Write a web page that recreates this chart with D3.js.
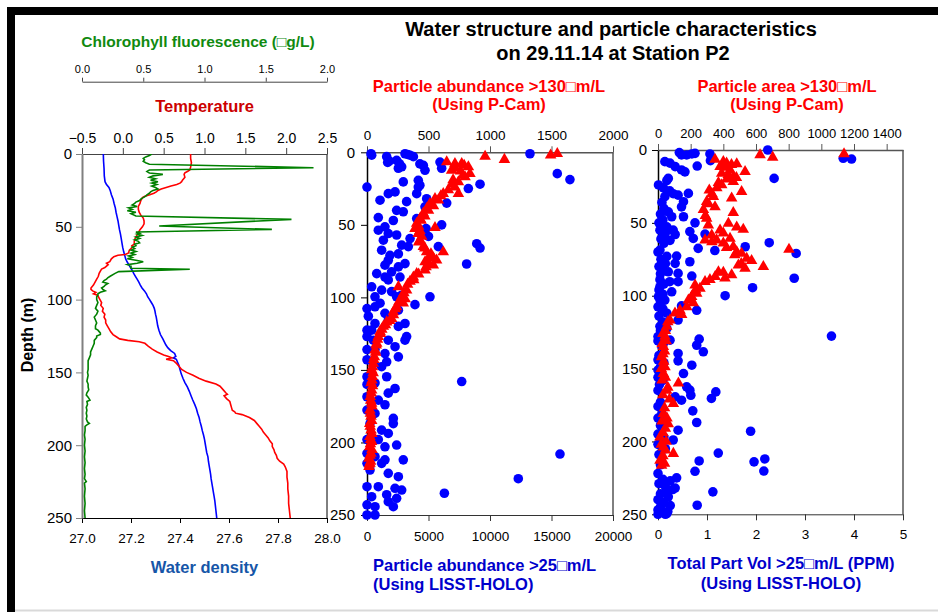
<!DOCTYPE html>
<html><head><meta charset="utf-8">
<script src="https://cdn.jsdelivr.net/npm/d3@7"></script>
<style>body{margin:0;background:#fff;} svg{display:block;}</style>
</head><body>
<svg id="chart" width="938" height="612"></svg>
<script>
// ---------------- DATA ----------------
const depthTicks = [0, 50, 100, 150, 200, 250];
const chlTicks = [0, 0.5, 1.0, 1.5, 2.0];
const tempTicks = [-0.5, 0, 0.5, 1.0, 1.5, 2.0, 2.5];
const densityTicks = [27.0, 27.2, 27.4, 27.6, 27.8, 28.0];
const pcamAbundanceTicks = [0, 500, 1000, 1500, 2000];
const holoAbundanceTicks = [0, 5000, 10000, 15000, 20000];
const pcamAreaTicks = [0, 200, 400, 600, 800, 1000, 1200, 1400];
const holoVolumeTicks = [0, 1, 2, 3, 4, 5];

// [depth m, value]
const chlorophyllProfile = [
[0,0.57],[1,0.55],[2,0.52],[3,0.50],[4,0.51],[5,0.50],[6,0.52],[7,0.55],[9.4,1.89],[11,0.55],[12,0.53],[13,0.55],[14,0.66],[15,0.58],[16,0.55],[17,0.60],[18,0.56],[19,0.62],[20,0.57],[21,0.61],[22,0.57],[23,0.60],[24,0.62],[25,0.58],[26,0.56],[27,0.55],[28,0.53],[29,0.52],[30,0.50],[31,0.48],[32,0.47],[33,0.44],[34,0.43],[35,0.41],[36,0.45],[37,0.38],[38,0.41],[39,0.37],[40,0.44],[41,0.40],[42.6,0.44],[44.9,1.71],[49.5,0.63],[51.8,1.55],[53.6,0.44],[54.5,0.47],[55,0.45],[56,0.49],[57,0.44],[58,0.47],[59,0.43],[60,0.46],[61,0.47],[62,0.43],[63,0.44],[64,0.41],[65,0.43],[66,0.40],[67,0.44],[68,0.40],[69,0.43],[70,0.38],[71,0.41],[72,0.37],[73,0.44],[74,0.50],[75,0.45],[76,0.37],[77,0.40],[78.5,0.40],[79.2,0.88],[80.8,0.30],[82,0.27],[84,0.23],[85,0.21],[86,0.20],[87,0.18],[88,0.17],[89,0.21],[90,0.19],[91,0.18],[92,0.16],[93,0.17],[94,0.19],[95,0.15],[96,0.13],[97,0.13],[98,0.12],[100,0.12],[102,0.13],[104,0.12],[106,0.11],[108,0.13],[110,0.12],[112,0.10],[114,0.11],[116,0.12],[118,0.11],[120,0.11],[121,0.13],[122,0.14],[123,0.15],[124,0.15],[125,0.12],[126,0.12],[128,0.10],[130,0.10],[132,0.09],[134,0.08],[136,0.07],[138,0.07],[140,0.06],[142,0.05],[144,0.05],[146,0.05],[148,0.05],[150,0.045],[152,0.05],[154,0.045],[156,0.04],[158,0.05],[160,0.05],[162,0.055],[164,0.04],[165.5,0.035],[167,0.05],[169,0.065],[170,0.04],[172,0.045],[174,0.035],[176,0.04],[178,0.035],[180,0.04],[182,0.035],[184,0.045],[185,0.06],[186,0.04],[187,0.025],[190,0.025],[193,0.02],[196,0.025],[200,0.02],[204,0.025],[208,0.02],[212,0.025],[216,0.02],[220,0.025],[223,0.02],[225,0.035],[226,0.02],[230,0.025],[235,0.02],[240,0.025],[245,0.02],[250,0.025]
];

const temperatureProfile = [
[0,0.83],[3,0.83],[6,0.84],[9,0.83],[11,0.82],[12,0.79],[13,0.76],[14,0.75],[16,0.76],[18,0.73],[19,0.72],[20,0.70],[21,0.66],[22,0.59],[23,0.53],[24,0.47],[25,0.43],[26,0.41],[27,0.38],[28,0.33],[29,0.27],[30,0.24],[32,0.22],[34,0.21],[36,0.19],[38,0.19],[40,0.20],[42,0.22],[44,0.25],[46,0.26],[48,0.26],[50,0.24],[52,0.21],[54,0.19],[56,0.17],[58,0.15],[60,0.14],[62,0.14],[63,0.11],[64,0.12],[66,0.08],[68,0.07],[69,0.03],[69.5,-0.06],[70.5,-0.11],[72,-0.14],[74,-0.16],[75,-0.20],[76,-0.18],[78,-0.22],[79,-0.26],[80,-0.27],[82,-0.29],[84,-0.30],[86,-0.32],[88,-0.34],[90,-0.36],[92,-0.39],[93,-0.39],[94,-0.37],[95,-0.33],[96,-0.36],[97,-0.31],[98,-0.30],[100,-0.28],[102,-0.26],[104,-0.27],[106,-0.24],[108,-0.25],[110,-0.22],[112,-0.23],[114,-0.21],[116,-0.21],[118,-0.19],[120,-0.17],[122,-0.15],[124,-0.12],[125.5,-0.08],[127,-0.04],[128,0.06],[129,0.20],[130,0.27],[132,0.31],[134,0.36],[136,0.42],[138,0.50],[139,0.56],[140,0.60],[141,0.53],[142,0.62],[144,0.66],[146,0.69],[148,0.72],[150,0.78],[152,0.86],[154,0.93],[156,1.02],[158,1.14],[159.5,1.19],[162,1.23],[164,1.26],[165,1.28],[166,1.24],[168,1.27],[170,1.31],[172,1.32],[174,1.33],[176,1.34],[177,1.37],[178,1.38],[179,1.46],[181,1.55],[183,1.61],[185,1.64],[187,1.67],[189,1.70],[191,1.72],[193,1.75],[195,1.78],[197,1.80],[199,1.83],[201,1.83],[203,1.85],[205,1.86],[207,1.88],[209,1.89],[211,1.92],[213,1.97],[215,1.99],[218,2.01],[222,2.01],[226,2.02],[230,2.02],[235,2.03],[240,2.03],[245,2.04],[250,2.05]
];

const densityProfile = [
[0,27.087],[5,27.088],[10,27.090],[15,27.091],[19,27.094],[21,27.100],[23,27.110],[25,27.115],[28,27.120],[31,27.127],[34,27.131],[37,27.136],[40,27.139],[43,27.143],[46,27.147],[49,27.150],[52,27.153],[55,27.157],[58,27.160],[61,27.163],[64,27.166],[67,27.170],[70,27.175],[72,27.178],[74,27.184],[76,27.191],[78,27.198],[80,27.205],[82,27.211],[84,27.218],[86,27.225],[88,27.232],[90,27.238],[92,27.245],[94,27.255],[96,27.263],[98,27.268],[100,27.276],[102,27.283],[104,27.290],[106,27.295],[108,27.298],[110,27.300],[112,27.303],[115,27.306],[118,27.309],[121,27.314],[124,27.320],[127,27.330],[129,27.336],[131,27.342],[133,27.350],[135,27.362],[137,27.378],[139,27.383],[140,27.372],[141,27.385],[143,27.390],[145,27.395],[148,27.400],[151,27.405],[154,27.412],[157,27.420],[160,27.430],[163,27.438],[166,27.445],[169,27.452],[172,27.460],[175,27.467],[178,27.472],[181,27.478],[184,27.482],[187,27.487],[190,27.491],[193,27.496],[196,27.500],[199,27.503],[202,27.506],[205,27.509],[208,27.514],[211,27.516],[214,27.519],[217,27.522],[220,27.525],[223,27.527],[226,27.530],[229,27.533],[232,27.536],[235,27.539],[238,27.542],[241,27.544],[244,27.546],[247,27.548],[250,27.550]
];

// Panel 2: particle abundance >25um (LISST-HOLO) [depth, #/L]
const holoAbundance = [
[1,325],[2,380],[3,1600],[7,1680],[6,1800],[5.5,2410],[1,3090],[2,3500],[3,3770],[1.5,3300],[9,4580],[12.4,4715],[8,4300],[11,2550],[10,2820],[8,2650],[6.7,5935],[11,6070],[24,0],[20.4,2950],[19.3,4170],[24,4170],[22.7,4300],[28.5,4040],[28.5,1730],[33,1060],[27.3,2280],[34,3220],[32,4850],[40,2410],[41,2950],[45,920],[47,2140],[45.7,4040],[37.6,4715],[53.7,920],[51.4,1460],[56,1730],[57,2410],[59.5,3500],[60.6,1330],[64,2820],[65,3360],[67.5,1190],[71,1870],[70,2550],[74.4,1730],[76.7,3090],[79,2550],[77.8,1460],[82.4,2000],[83.6,790],[86,1460],[86,2680],[88,1730],[92.7,380],[95,1190],[99.6,650],[96,2000],[99.6,2410],[98.5,2820],[107.7,0],[106.5,650],[104,1060],[111,1460],[113,110],[108.8,2550],[105,3900],[99.6,5120],[115.7,1730],[118,650],[122.6,0],[122.6,380],[120,2550],[118,3090],[127,0],[129.5,515],[129.5,1730],[134,2280],[129.5,3090],[127,3220],[136,0],[136,650],[138.7,1460],[141,2550],[143,0],[145.5,515],[147.8,1190],[144.4,1600],[154.7,0],[154.7,1600],[160,0],[159,650],[162.8,2280],[166,1730],[168.5,0],[170.8,920],[174,1460],[177.7,0],[180,650],[183.4,2140],[187,2140],[187,245],[191.5,1190],[193.8,1730],[198,0],[198,920],[201.8,2410],[203,1460],[207.5,0],[209.8,650],[212,1460],[212,2950],[214.4,0],[214.4,1190],[219,245],[221.3,1730],[223.6,2550],[230.5,0],[230.5,920],[231.6,2280],[232.8,2820],[235,6290],[237.4,380],[236,1600],[238.5,2410],[243,0],[244.3,650],[240.8,1730],[244.3,2140],[250,0],[250,650],
[1,13250],[14.7,15470],[18.8,16500],[22,9190],[25,8240],[35,6480],[50,6070],[52.6,4800],[58,5000],[65,5800],[63,8920],[66,9190],[77,8100],[158,7700],[208,15690],[225,12300]
];

// Panel 2: particle abundance >130um (P-Cam) [depth, #/L]
const pcamAbundance = [
[1,1547],[2,1493],[2.8,960],[5,1117],[6.7,648],[7.8,715],[12.4,688],[7.8,770],[10,824],[14.7,837],[17,797],[20.4,743],[24,715],[26,661],[28.5,743],[28.5,620],[32,553],[35.4,512],[38.8,485],[42,458],[45.7,431],[49,404],[52,553],[52.6,390],[56,417],[60.6,431],[65,458],[68.6,485],[68.6,620],[72,512],[74.4,566],[75.5,472],[77.8,539],[81.3,472],[83.6,404],[86,377],[89,350],[92.7,255],[95,322],[99.6,282],[104,295],[106.5,241],[110,214],[114.6,200],[117,160],[120,133],[123.7,106],[127,92],[131.8,79],[136.4,65],[141,60],[145.5,51],[150,38],[154.7,43],[159,33],[164,38],[168.5,27],[173,38],[177.7,24],[182,33],[187,22],[191.5,33],[196,24],[199.5,38],[203,22],[207.5,33],[211,16],[214.4,24],[216.7,16],
[9,790],[11,720],[13,760],[16,780],[19,700],[22,690],[30,600],[33,580],[37,540],[40,500],[44,470],[47,440],[51,420],[54,430],[58,445],[62,420],[66,470],[70,520],[73,540],[76,500],[79,480],[84,420],[88,380],[91,330],[97,300],[101,310],[103,260],[108,230],[112,215],[116,185],[119,150],[122,120],[125,110],[129,85],[133,75],[138,70],[143,55],[148,45],[152,50],[157,40],[161,45],[166,35],[171,30],[175,40],[180,28],[185,38],[189,26],[194,40],[198,30],[201,28],[205,40],[209,25],[213,30],[215,20]
];

// Panel 3: total particle volume >25um (LISST-HOLO) [depth, ppm]
const holoVolume = [
[1.8,0.435],[3.4,0.48],[3.4,0.585],[2.7,0.69],[2.3,0.755],[2.7,1.06],[7.3,1.07],[0,2.24],[5.7,3.78],[6.2,3.95],[19.5,2.37],[8,0.14],[9,0.245],[11.4,0.35],[13.7,0.48],[15,0.55],[11,0.8],[19.5,0.21],[21,0.18],[24,0.01],[26,0.11],[28,0.24],[30,0.31],[32,0.14],[31,0.41],[29.8,0.62],[35.5,0.52],[39,0.48],[42.4,0.21],[45.8,0.28],[45.8,0.52],[50,0.755],[52.7,0.18],[55,0.04],[55,0.31],[59.5,0.11],[62,0.245],[58,0.35],[56,0.65],[60.7,0.72],[67.5,0.82],[57.7,0.96],[66.4,1.78],[63.6,2.27],[71,2.82],[69,1.16],[68.7,0.04],[73,0.18],[72.8,0.38],[77.8,0.35],[76.7,0.65],[81.3,0.075],[83.6,0.21],[84.7,0.41],[86.5,0.69],[88,2.78],[94.5,1.93],[89,0.04],[90.4,0.24],[90.4,0.41],[93.8,0.04],[97.3,0.28],[100,1.37],[100.7,0.01],[103,0.14],[107,0.48],[110,0.79],[107.6,0],[112,0.18],[116.7,0.41],[121,0.04],[122.5,0.18],[127.7,3.54],[128,0],[130.5,0.245],[129.8,0.84],[134,0.79],[138.5,0.925],[132.8,0.11],[139.6,0.41],[144,0],[144.7,0.41],[147.7,0.69],[151,0],[153.4,0.52],[162.5,0.585],[164.8,0.65],[168.3,0.67],[166,1.18],[170.5,1.09],[169.4,0.35],[171.7,0.48],[179,0.71],[187,0.79],[192.3,0.41],[193,1.89],[199,0.31],[208,1.23],[213.4,0.84],[214,1.96],[212,2.18],[220.3,2.16],[220.5,0.755],[225,0.38],[234.6,1.12],[232,0.35],[238,0.21],[243.8,0.8],[249.5,0.18],[247,0],
[36,0.08],[40,0.12],[44,0.05],[48,0.1],[50,0.02],[53,0.08],[57,0.15],[61,0.06],[64,0.12],[70,0.0],[75,0.06],[78,0.15],[80,0.02],[85,0.05],[92,0.12],[96,0.02],[99,0.1],[104,0.05],[109,0.1],[114,0.02],[118,0.1],[124,0.05],[131,0.0],[135,0.08],[141,0.02],[146,0.12],[149,0.05],[156,0.0],[158,0.1],[161,0.03],[165,0.0],[173,0.05],[176,0.0],[181,0.08],[184,0.0],[189,0.05],[195,0.0],[197,0.12],[202,0.0],[205,0.15],[209,0.02],[216,0.05],[222,0.0],[226,0.1],[229,0.02],[231,0.15],[236,0.05],[240,0.0],[242,0.12],[245,0.05],[250,0.0],[250,0.15],[227,0.25],[233,0.3],[236,0.18],[244,0.25],[248,0.2]
];

// Panel 3: particle area >130um (P-Cam) [depth, value]
const pcamArea = [
[3.4,625],[5,702],[2.7,1139],[6.4,349],[8,400],[9,420],[9.6,482],[14.9,533],[11.4,380],[13.7,441],[16,390],[18.3,461],[20,420],[22.4,370],[21.7,461],[28.6,512],[27.5,314],[32,339],[33,451],[35.5,298],[41,278],[39,349],[43,461],[47,298],[51.5,308],[50.4,431],[53,482],[54.5,522],[55,380],[58.4,329],[61.8,288],[61.8,359],[64,400],[60.7,441],[66.4,461],[70,482],[71,512],[74.4,543],[76,573],[68.2,802],[80,645],[79,492],[81.3,533],[85.8,451],[83.6,370],[88,410],[89,318],[90.4,288],[92.7,227],[95,257],[98.4,237],[100.7,206],[103,186],[105,216],[107.6,176],[110,135],[112,104],[113,145],[116.8,73],[121,53],[128,43],[135,33],[142,22],[148.8,43],[153.4,33],[160,125],[165,53],[174,94],[181,33],[188,63],[197,12],[204,33],[208.3,94],[213,12],[216.5,22],
[118,60],[124,45],[126,30],[131,50],[133,25],[138,40],[140,30],[145,35],[150,20],[156,45],[158,25],[163,60],[168,30],[171,70],[177,40],[184,55],[186,25],[191,45],[194,30],[200,50],[202,20],[206,45],[210,30],[215,40],
[10,450],[12,410],[17,430],[19,480],[24,390],[26,360],[30,330],[37,310],[45,290],[57,400],[63,330],[67,420],[72,470],[78,510],[84,400],[87,350],[96,230],[102,200]
];

// ---------------- DRAWING ----------------
const FONT = '"Liberation Sans", Arial, Helvetica, sans-serif';
const svg = d3.select("#chart");
svg.append("rect").attr("width", 938).attr("height", 612).attr("fill", "#fff");

// outer frame
svg.append("rect").attr("x", 7).attr("y", 7).attr("width", 931).attr("height", 8).attr("fill", "#000");
svg.append("rect").attr("x", 7).attr("y", 7).attr("width", 8).attr("height", 605).attr("fill", "#000");
svg.append("line").attr("x1", 15).attr("x2", 938).attr("y1", 610.5).attr("y2", 610.5)
  .attr("stroke", "#d9d9d9").attr("stroke-width", 2);

const P1 = {left: 82, right: 327, top: 154, bottom: 518};
const P2 = {left: 367, right: 613, top: 152.3, bottom: 515};
const P3 = {left: 658, right: 903, top: 150, bottom: 514.3};

// scales
const y1 = d3.scaleLinear().domain([0, 250]).range([P1.top, P1.bottom]);
const xChl = d3.scaleLinear().domain([0, 2]).range([P1.left, P1.right]);
const xTemp = d3.scaleLinear().domain([-0.5, 2.5]).range([P1.left, P1.right]);
const xDens = d3.scaleLinear().domain([27, 28]).range([P1.left, P1.right]);

const y2 = d3.scaleLinear().domain([0, 250]).range([P2.top, P2.bottom]);
const xPcamAb = d3.scaleLinear().domain([0, 2000]).range([P2.left, P2.right]);
const xHoloAb = d3.scaleLinear().domain([0, 20000]).range([P2.left, P2.right]);

const y3 = d3.scaleLinear().domain([0, 250]).range([P3.top, P3.bottom]);
const xPcamAr = d3.scaleLinear().domain([0, 1500]).range([P3.left, P3.right]);
const xHoloVol = d3.scaleLinear().domain([0, 5]).range([P3.left, P3.right]);

function drawAxis(axis, tx, ty, o) {
  const g = svg.append("g").attr("transform", `translate(${tx},${ty})`).call(axis);
  g.attr("font-family", FONT).attr("font-size", o.fs);
  g.select(".domain").attr("stroke", o.color || "#000").attr("stroke-width", o.lw || 1);
  g.selectAll(".tick line").attr("stroke", o.tickColor || o.color || "#000").attr("stroke-width", o.tlw || 1);
  g.selectAll(".tick text").attr("fill", "#000");
  if (o.textY !== undefined) g.selectAll(".tick text").attr("y", o.textY).attr("dy", 0);
  return g;
}
const f1 = d3.format(".1f");
const fInt = d3.format("d");

// plot frames (right borders)
function frame(P) {
  svg.append("line").attr("x1", P.right).attr("x2", P.right).attr("y1", P.top).attr("y2", P.bottom)
    .attr("stroke", "#000").attr("stroke-width", 1);
}
frame(P1); frame(P2); frame(P3);

// ---- Panel 1 ----
drawAxis(d3.axisTop(xChl).tickValues(chlTicks).tickFormat(f1).tickSize(4).tickSizeOuter(0), 0, 81.7,
  {fs: 11, color: "#444", textY: -9});
drawAxis(d3.axisTop(xTemp).tickValues(tempTicks).tickFormat(f1).tickSize(6).tickSizeOuter(0), 0, P1.top,
  {fs: 14, color: "#444", textY: -11});
drawAxis(d3.axisBottom(xDens).tickValues(densityTicks).tickFormat(f1).tickSize(5).tickSizeOuter(0), 0, P1.bottom,
  {fs: 13.5, color: "#000", textY: 25});
drawAxis(d3.axisLeft(y1).tickValues(depthTicks).tickFormat(fInt).tickSize(6).tickPadding(4).tickSizeOuter(0), P1.left, 0,
  {fs: 15, color: "#808080", lw: 2});

svg.append("clipPath").attr("id", "c1").append("rect")
  .attr("x", P1.left).attr("y", P1.top).attr("width", P1.right - P1.left).attr("height", P1.bottom - P1.top);

const gL = svg.append("g").attr("clip-path", "url(#c1)");
gL.append("path").datum(densityProfile)
  .attr("d", d3.line().x(d => xDens(d[1])).y(d => y1(d[0])))
  .attr("fill", "none").attr("stroke", "#0000ff").attr("stroke-width", 1.6);
gL.append("path").datum(temperatureProfile)
  .attr("d", d3.line().x(d => xTemp(d[1])).y(d => y1(d[0])))
  .attr("fill", "none").attr("stroke", "#ff0000").attr("stroke-width", 1.6);
gL.append("path").datum(chlorophyllProfile)
  .attr("d", d3.line().x(d => xChl(d[1])).y(d => y1(d[0])))
  .attr("fill", "none").attr("stroke", "#008000").attr("stroke-width", 1.6);

// ---- Panel 2 ----
drawAxis(d3.axisTop(xPcamAb).tickValues(pcamAbundanceTicks).tickFormat(fInt).tickSize(6).tickSizeOuter(0), 0, P2.top,
  {fs: 13.5, color: "#555", lw: 1.5, textY: -12});
drawAxis(d3.axisBottom(xHoloAb).tickValues(holoAbundanceTicks).tickFormat(fInt).tickSize(6).tickSizeOuter(0), 0, P2.bottom,
  {fs: 13.5, color: "#333", textY: 25.5});
drawAxis(d3.axisLeft(y2).tickValues(depthTicks).tickFormat(fInt).tickSize(6).tickPadding(6).tickSizeOuter(0), P2.left, 0,
  {fs: 15, color: "#000", lw: 1.5});

const tri = d3.symbol().type(d3.symbolTriangle).size(58);

svg.append("g").selectAll("circle").data(holoAbundance).join("circle")
  .attr("cx", d => xHoloAb(d[1])).attr("cy", d => y2(d[0])).attr("r", 4.8).attr("fill", "#0000ff");
svg.append("g").selectAll("path").data(pcamAbundance).join("path")
  .attr("d", tri).attr("transform", d => `translate(${xPcamAb(d[1])},${y2(d[0])})`).attr("fill", "#ff0000");

// ---- Panel 3 ----
drawAxis(d3.axisTop(xPcamAr).tickValues(pcamAreaTicks).tickFormat(fInt).tickSize(6).tickSizeOuter(0), 0, P3.top,
  {fs: 13, color: "#555", lw: 1.5, textY: -12});
drawAxis(d3.axisBottom(xHoloVol).tickValues(holoVolumeTicks).tickFormat(fInt).tickSize(6).tickSizeOuter(0), 0, P3.bottom,
  {fs: 13.5, color: "#333", textY: 25});
drawAxis(d3.axisLeft(y3).tickValues(depthTicks).tickFormat(fInt).tickSize(6).tickPadding(5).tickSizeOuter(0), P3.left, 0,
  {fs: 15, color: "#000", lw: 1.5});

svg.append("g").selectAll("circle").data(holoVolume).join("circle")
  .attr("cx", d => xHoloVol(d[1])).attr("cy", d => y3(d[0])).attr("r", 4.8).attr("fill", "#0000ff");
svg.append("g").selectAll("path").data(pcamArea).join("path")
  .attr("d", tri).attr("transform", d => `translate(${xPcamAr(d[1])},${y3(d[0])})`).attr("fill", "#ff0000");

// ---- Texts ----
function label(txt, x, y, o) {
  const t = svg.append("text").attr("x", x).attr("y", y).text(txt)
    .attr("font-family", FONT).attr("font-weight", "bold")
    .attr("font-size", o.fs).attr("fill", o.fill)
    .attr("text-anchor", o.anchor || "middle");
  if (o.rotate) t.attr("transform", `rotate(-90,${x},${y})`);
  return t;
}
label("Water structure and particle characteristics", 611, 36, {fs: 20, fill: "#000"});
label("on 29.11.14 at Station P2", 613, 60, {fs: 20, fill: "#000"});

label("Chlorophyll fluorescence (\u25A1g/L)", 198, 46.5, {fs: 15.5, fill: "#108a10"});
label("Temperature", 204.5, 112, {fs: 16.5, fill: "#cc0000"});
label("Water density", 204.5, 573, {fs: 16.5, fill: "#1656a8"});
label("Depth (m)", 33, 335, {fs: 16, fill: "#000", rotate: true});

label("Particle abundance >130\u25A1m/L", 489, 91.5, {fs: 16.5, fill: "#ff0000"});
label("(Using P-Cam)", 489, 110, {fs: 16.5, fill: "#ff0000"});
label("Particle area >130\u25A1m/L", 787, 91.5, {fs: 16.5, fill: "#ff0000"});
label("(Using P-Cam)", 787, 110, {fs: 16.5, fill: "#ff0000"});

label("Particle abundance >25\u25A1m/L", 373, 571, {fs: 16.5, fill: "#0000cc", anchor: "start"});
label("(Using LISST-HOLO)", 373, 590, {fs: 16.5, fill: "#0000cc", anchor: "start"});
label("Total Part Vol >25\u25A1m/L (PPM)", 781, 569, {fs: 16.5, fill: "#0000cc"});
label("(Using LISST-HOLO)", 781, 589, {fs: 16.5, fill: "#0000cc"});
</script>
</body></html>
